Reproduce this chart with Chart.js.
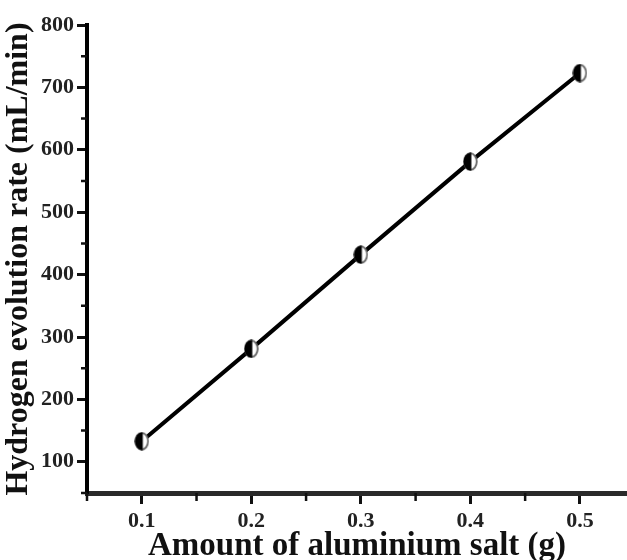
<!DOCTYPE html>
<html>
<head>
<meta charset="utf-8">
<script src="https://cdn.jsdelivr.net/npm/chart.js@4/dist/chart.umd.min.js"></script>
<style>
  html, body { margin: 0; padding: 0; background: #fff; }
  #wrap { width: 627px; height: 560px; }
</style>
</head>
<body>
<div id="wrap"><canvas id="c" width="627" height="560"></canvas></div>
<script>
// ---- data ----
const saltAmounts = [0.1, 0.2, 0.3, 0.4, 0.5];          // g
const evolutionRates = [133, 281, 432, 581, 723];        // mL/min
const xTickValues = [0.1, 0.2, 0.3, 0.4, 0.5];
const xMinorTickValues = [0.05, 0.15, 0.25, 0.35, 0.45];
const yTickValues = [100, 200, 300, 400, 500, 600, 700, 800];
const yMinorTickValues = [50, 150, 250, 350, 450, 550, 650, 750];
const xTitle = 'Amount of aluminium salt (g)';
const yTitle = 'Hydrogen evolution rate (mL/min)';

// half-filled marker
function makeMarker() {
  const w = 15, h = 19;
  const cv = document.createElement('canvas');
  cv.width = w; cv.height = h;
  const g = cv.getContext('2d');
  g.beginPath();
  g.ellipse(w / 2, h / 2, w / 2 - 1.2, h / 2 - 1.2, 0, 0, Math.PI * 2);
  g.fillStyle = '#fff';
  g.fill();
  g.lineWidth = 1.8;
  g.strokeStyle = '#666';
  g.stroke();
  g.save();
  g.beginPath();
  g.rect(0, 0, w / 2 + 1, h);
  g.clip();
  g.beginPath();
  g.ellipse(w / 2, h / 2, w / 2 - 0.6, h / 2 - 0.6, 0, 0, Math.PI * 2);
  g.fillStyle = '#000';
  g.fill();
  g.restore();
  return cv;
}
const marker = makeMarker();

const minorTicks = {
  id: 'minorTicks',
  afterDraw(chart) {
    const ctx = chart.ctx;
    const xs = chart.scales.x, ys = chart.scales.y;
    const area = chart.chartArea;
    ctx.save();
    ctx.strokeStyle = '#111';
    ctx.lineWidth = 2.5;
    ctx.beginPath();
    xMinorTickValues.forEach(v => {
      const px = xs.getPixelForValue(v);
      ctx.moveTo(px, area.bottom);
      ctx.lineTo(px, area.bottom + 8);
    });
    yMinorTickValues.forEach(v => {
      const py = ys.getPixelForValue(v);
      ctx.moveTo(area.left, py);
      ctx.lineTo(area.left - 6, py);
    });
    ctx.stroke();
    ctx.restore();
  }
};

const tickFont = { family: '"Liberation Serif", "Times New Roman", serif', size: 22, weight: 'bold' };
const yTitleFont = { family: '"Liberation Serif", "Times New Roman", serif', size: 32, weight: 'bold', lineHeight: 1.0 };
const xTitleFont = { family: '"Liberation Serif", "Times New Roman", serif', size: 33, weight: 'bold', lineHeight: 1.0 };

new Chart(document.getElementById('c'), {
  type: 'scatter',
  data: {
    datasets: [{
      data: saltAmounts.map((x, i) => ({ x: x, y: evolutionRates[i] })),
      showLine: true,
      borderColor: '#000',
      borderWidth: 4,
      pointStyle: marker,
      pointRadius: 8,
      pointHoverRadius: 8,
      tension: 0
    }]
  },
  options: {
    responsive: false,
    animation: false,
    events: [],
    layout: { autoPadding: false, padding: { top: 25, right: 0, left: 0, bottom: 0 } },
    plugins: { legend: { display: false }, tooltip: { enabled: false } },
    scales: {
      x: {
        type: 'linear',
        min: 0.05,
        max: 0.543,
        afterBuildTicks: s => { s.ticks = xTickValues.map(v => ({ value: v })); },
        afterFit: s => { s.height = 67; },
        grid: { drawOnChartArea: false, drawTicks: true, tickLength: 11, tickWidth: 3, tickColor: '#111' },
        border: { display: true, color: '#2a2a2a', width: 5 },
        ticks: {
          color: '#222',
          font: tickFont,
          padding: 4,
          maxRotation: 0,
          callback: v => Number(v).toFixed(1)
        },
        title: { display: true, text: xTitle, color: '#111', font: xTitleFont, padding: { top: 0, bottom: -3 } }
      },
      y: {
        min: 50,
        max: 800,
        afterBuildTicks: s => { s.ticks = yTickValues.map(v => ({ value: v })); },
        afterFit: s => { s.width = 87; },
        grid: { drawOnChartArea: false, drawTicks: true, tickLength: 10, tickWidth: 3, tickColor: '#111' },
        border: { display: true, color: '#000', width: 4 },
        ticks: {
          color: '#222',
          font: tickFont,
          padding: 3,
          callback: v => String(v)
        },
        title: { display: true, text: yTitle, color: '#111', font: yTitleFont, padding: { top: 3, bottom: 0 } }
      }
    }
  },
  plugins: [minorTicks]
});
</script>
</body>
</html>
